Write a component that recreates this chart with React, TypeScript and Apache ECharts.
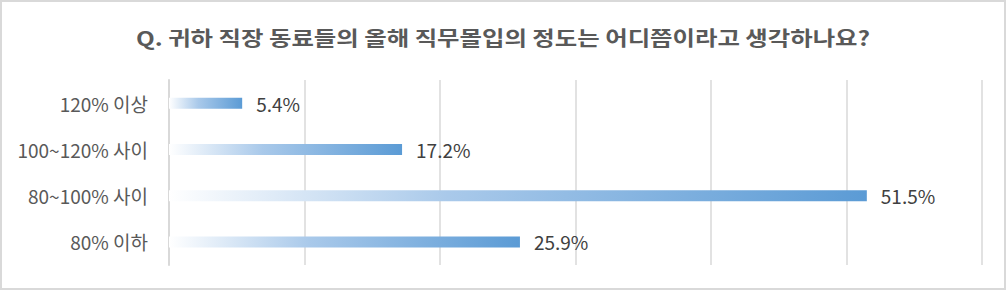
import React, { useEffect, useRef } from "react";
import * as echarts from "echarts";

const title = "Q. 귀하 직장 동료들의 올해 직무몰입의 정도는 어디쯤이라고 생각하나요?";
const categories = ["120% 이상", "100~120% 사이", "80~100% 사이", "80% 이하"];
const values = [5.4, 17.2, 51.5, 25.9];
const axisMin = 0;
const axisMax = 60;
const axisInterval = 10;

const FONT = "'Noto Sans CJK KR', 'Noto Sans', sans-serif";

export default function App() {
  const ref = useRef<HTMLDivElement>(null);
  useEffect(() => {
    if (!ref.current) return;
    const chart = echarts.init(ref.current, null, { renderer: "svg" });
    chart.setOption({
      animation: false,
      backgroundColor: "#ffffff",
      graphic: [
        {
          type: "rect",
          shape: { x: 1, y: 1, width: 1004, height: 288 },
          style: { fill: "none", stroke: "#d9d9d9", lineWidth: 2 },
          silent: true,
        },
        {
          type: "text",
          x: 503,
          y: 37,
          scaleX: 1.22,
          silent: true,
          style: {
            text: title,
            fontFamily: FONT,
            fontSize: 20,
            fontWeight: "bold",
            fill: "#595959",
            textAlign: "center",
            textVerticalAlign: "middle",
          },
        },
      ],
      grid: { left: 169, top: 80, width: 813, height: 185, containLabel: false },
      xAxis: {
        type: "value",
        min: axisMin,
        max: axisMax,
        interval: axisInterval,
        axisLabel: { show: false },
        axisTick: { show: false },
        axisLine: { show: false },
        splitLine: { show: true, lineStyle: { color: "#d9d9d9", width: 1.5 } },
      },
      yAxis: {
        type: "category",
        data: categories,
        inverse: true,
        axisTick: { show: false },
        axisLine: { show: true, lineStyle: { color: "#d9d9d9", width: 2 } },
        axisLabel: { fontFamily: FONT, fontSize: 19, color: "#595959", margin: 21 },
      },
      series: [
        {
          type: "bar",
          data: values,
          barWidth: 11,
          itemStyle: {
            color: new echarts.graphic.LinearGradient(0, 0, 1, 0, [
              { offset: 0, color: "#ffffff" },
              { offset: 0.4, color: "#a9c9ea" },
              { offset: 1, color: "#5b9bd5" },
            ]),
          },
          label: {
            show: true,
            position: "right",
            distance: 14,
            formatter: (p: any) => p.value.toFixed(1) + "%",
            fontFamily: FONT,
            fontSize: 19,
            color: "#404040",
          },
        },
      ],
    });
    return () => chart.dispose();
  }, []);
  return (
    <div
      ref={ref}
      style={{ position: "fixed", left: 0, top: 0, width: 1006, height: 290 }}
    />
  );
}
